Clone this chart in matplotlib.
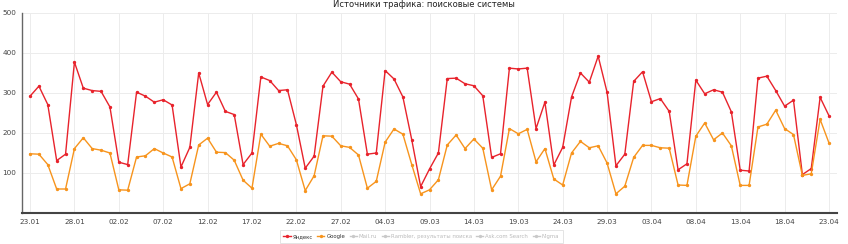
import pandas as pd
from matplotlib import pyplot as plt
from matplotlib.lines import Line2D

plt.rcParams['font.family'] = ['DejaVu Sans']

start_date = "2013-01-23"

yandex = [292, 317, 271, 131, 147, 377, 312, 306, 304, 265,
          127, 121, 302, 292, 277, 283, 270, 115, 164, 350,
          271, 302, 254, 246, 121, 150, 340, 331, 306, 308,
          221, 112, 142, 317, 352, 328, 322, 285, 147, 150,
          356, 335, 290, 183, 66, 110, 150, 336, 337, 323,
          318, 293, 139, 148, 362, 360, 362, 211, 277, 120,
          164, 290, 350, 327, 392, 302, 118, 147, 329, 353,
          278, 286, 254, 108, 123, 332, 298, 308, 302, 253,
          107, 105, 337, 342, 306, 267, 282, 96, 111, 289,
          243]

google = [148, 147, 121, 60, 60, 161, 188, 161, 157, 150,
          58, 57, 140, 143, 161, 150, 140, 61, 73, 170,
          187, 152, 151, 132, 82, 62, 197, 167, 174, 168,
          133, 56, 93, 193, 192, 168, 164, 145, 62, 79,
          177, 210, 197, 121, 48, 58, 83, 170, 195, 161,
          185, 162, 58, 92, 211, 198, 209, 128, 161, 85,
          70, 150, 179, 163, 168, 125, 48, 67, 139, 169,
          169, 163, 162, 70, 69, 192, 225, 183, 200, 168,
          69, 69, 215, 222, 257, 211, 196, 94, 98, 234,
          175]

legend_labels = ["Яндекс", "Google", "Mail.ru", "Rambler, результаты поиска",
                 "Ask.com Search", "Nigma"]
y_ticks = [100, 200, 300, 400, 500]

RED = '#e8232c'
ORANGE = '#f7941d'
HIDDEN = '#c9c9c9'


def main():
    dates = pd.date_range(start_date, periods=len(yandex))
    x = list(range(len(dates)))

    fig = plt.figure(figsize=(8.48, 2.44), dpi=100)
    ax = fig.add_axes([0.026, 0.127, 0.961, 0.82])

    ax.plot(x, yandex, color=RED, lw=1.0, marker='o', ms=1.4, zorder=3)
    ax.plot(x, google, color=ORANGE, lw=1.0, marker='o', ms=1.4, zorder=3)

    ax.set_xlim(-0.9, len(x) - 0.1)
    ax.set_ylim(0, 500)
    ax.set_yticks(y_ticks)
    ax.set_xticks(x[::5])
    ax.set_xticklabels([d.strftime('%d.%m') for d in dates[::5]])
    ax.tick_params(length=0, labelsize=5.2, colors='#444444', pad=4)
    ax.grid(True, color='#ececec', lw=0.7)
    ax.set_axisbelow(True)
    for side in ['top', 'right']:
        ax.spines[side].set_visible(False)
    ax.spines['left'].set_color('#666666')
    ax.spines['left'].set_linewidth(1.0)
    ax.spines['bottom'].set_color('#444444')
    ax.spines['bottom'].set_linewidth(1.5)

    fig.text(0.5, 0.998, "Источники трафика: поисковые системы", ha='center', va='top',
             fontsize=6, color='#222222')

    colors = [RED, ORANGE, HIDDEN, HIDDEN, HIDDEN, HIDDEN]
    handles = [Line2D([0], [0], color=c, lw=1.0, marker='o', ms=1.4) for c in colors]
    leg = fig.legend(handles, legend_labels, loc='upper center', bbox_to_anchor=(0.497, 0.068),
                     ncol=6, fontsize=3.9, frameon=True, handlelength=1.3, handletextpad=0.4,
                     columnspacing=0.8, borderpad=0.7, fancybox=False)
    leg.get_frame().set_edgecolor('#dddddd')
    leg.get_frame().set_linewidth(0.7)
    for i, t in enumerate(leg.get_texts()):
        t.set_color('#333333' if i < 2 else '#bbbbbb')

    fig.savefig('out.png', dpi=100)


if __name__ == '__main__':
    main()
